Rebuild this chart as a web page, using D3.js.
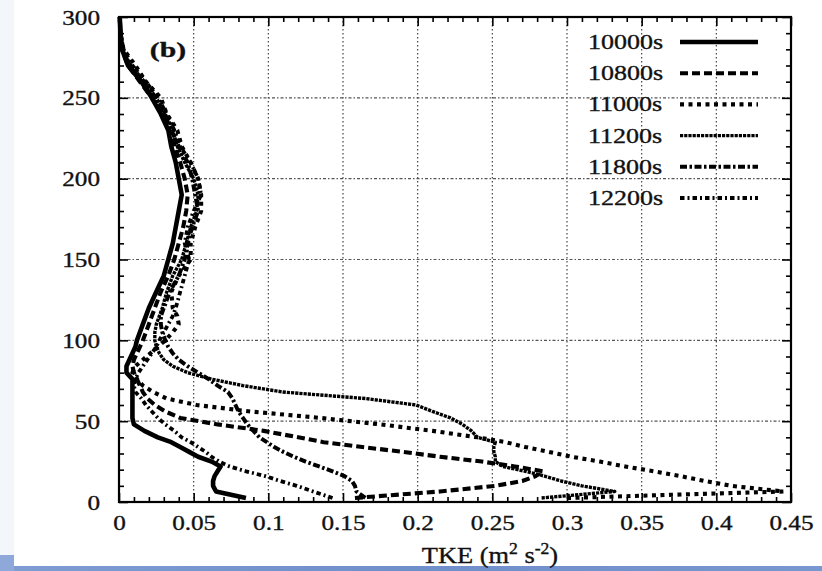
<!DOCTYPE html>
<html>
<head>
<meta charset="utf-8">
<script src="https://cdn.jsdelivr.net/npm/d3@7"></script>
<style>
  html, body { margin: 0; padding: 0; background: #fff; }
  svg { display: block; }
  text { font-family: "Liberation Serif", "Times New Roman", serif; fill: #111; stroke: #111; stroke-width: 0.35px; }
</style>
</head>
<body>
<svg id="chart" width="822" height="571"></svg>
<script>
// Heights (m) shared by all TKE profiles
const heights = [2.5, 6.5, 10, 13, 16, 19, 22, 25, 28, 31, 34, 37, 40, 44, 48, 52, 56, 60, 64, 68,
  72, 76, 80, 84, 88, 92, 96, 100, 105, 110, 115, 120, 130, 140, 150, 160, 170, 180, 190, 200,
  210, 220, 230, 240, 250, 260, 270, 280, 290, 300];

// TKE (m2 s-2) at each height, one array per output time
const tke10000 = [0.085, 0.065, 0.063, 0.063, 0.064, 0.066, 0.068, 0.062, 0.053, 0.047, 0.041, 0.035, 0.026, 0.017, 0.010, 0.009, 0.009, 0.009, 0.009, 0.009,
  0.009, 0.009, 0.005, 0.005, 0.007, 0.009, 0.011, 0.012, 0.014, 0.016, 0.018, 0.020, 0.025, 0.030, 0.033, 0.036, 0.038, 0.040, 0.042, 0.040,
  0.038, 0.035, 0.033, 0.028, 0.022, 0.015, 0.006, 0.002, 0.001, 0.0005];
const tke10800 = [0.158, 0.215, 0.252, 0.270, 0.279, 0.284, 0.265, 0.243, 0.215, 0.190, 0.163, 0.137, 0.120, 0.097, 0.066, 0.041, 0.031, 0.024, 0.019, 0.016,
  0.014, 0.012, 0.010, 0.009, 0.010, 0.012, 0.014, 0.016, 0.018, 0.020, 0.022, 0.024, 0.028, 0.033, 0.037, 0.040, 0.043, 0.045, 0.046, 0.044,
  0.041, 0.037, 0.034, 0.029, 0.022, 0.014, 0.006, 0.002, 0.001, 0.0005];
const tke11000 = [0.300, 0.445, 0.410, 0.392, 0.376, 0.358, 0.339, 0.322, 0.303, 0.288, 0.272, 0.259, 0.240, 0.210, 0.175, 0.135, 0.088, 0.052, 0.032, 0.023,
  0.016, 0.012, 0.009, 0.011, 0.016, 0.021, 0.026, 0.031, 0.036, 0.040, 0.039, 0.036, 0.035, 0.040, 0.048, 0.048, 0.051, 0.055, 0.055, 0.053,
  0.048, 0.042, 0.039, 0.032, 0.028, 0.018, 0.011, 0.003, 0.001, 0.0005];
const tke11200 = [0.283, 0.332, 0.310, 0.296, 0.285, 0.272, 0.257, 0.252, 0.252, 0.251, 0.251, 0.252, 0.240, 0.236, 0.230, 0.222, 0.210, 0.199, 0.165, 0.110,
  0.083, 0.062, 0.046, 0.036, 0.030, 0.027, 0.025, 0.024, 0.024, 0.025, 0.027, 0.029, 0.032, 0.036, 0.042, 0.045, 0.048, 0.052, 0.053, 0.050,
  0.044, 0.039, 0.036, 0.031, 0.025, 0.017, 0.008, 0.002, 0.001, 0.0005];
const tke11800 = [0.165, 0.159, 0.158, 0.156, 0.151, 0.143, 0.134, 0.125, 0.117, 0.110, 0.104, 0.099, 0.094, 0.090, 0.086, 0.083, 0.080, 0.078, 0.076, 0.073,
  0.066, 0.060, 0.053, 0.046, 0.040, 0.036, 0.033, 0.031, 0.029, 0.028, 0.028, 0.030, 0.034, 0.040, 0.044, 0.046, 0.049, 0.053, 0.051, 0.049,
  0.046, 0.040, 0.035, 0.030, 0.023, 0.015, 0.007, 0.002, 0.001, 0.0005];
const tke12200 = [0.143, 0.130, 0.119, 0.108, 0.098, 0.085, 0.074, 0.067, 0.062, 0.058, 0.053, 0.048, 0.042, 0.037, 0.031, 0.026, 0.022, 0.018, 0.015, 0.011,
  0.010, 0.011, 0.013, 0.016, 0.019, 0.022, 0.025, 0.027, 0.030, 0.033, 0.036, 0.038, 0.041, 0.044, 0.047, 0.044, 0.046, 0.050, 0.055, 0.053,
  0.048, 0.041, 0.037, 0.032, 0.026, 0.018, 0.009, 0.003, 0.001, 0.0005];

const seriesNames = ["10000s", "10800s", "11000s", "11200s", "11800s", "12200s"];
const seriesValues = [tke10000, tke10800, tke11000, tke11200, tke11800, tke12200];

const xTickValues = [0, 0.05, 0.1, 0.15, 0.2, 0.25, 0.3, 0.35, 0.4, 0.45];
const xTickLabels = ["0", "0.05", "0.1", "0.15", "0.2", "0.25", "0.3", "0.35", "0.4", "0.45"];
const yTickValues = [0, 50, 100, 150, 200, 250, 300];
const yTickLabels = ["0", "50", "100", "150", "200", "250", "300"];

// Line styles per series
const styles = [
  { dash: null,          width: 4.6 },
  { dash: "8,4",         width: 4.1 },
  { dash: "4,4.5",       width: 4.1 },
  { dash: "3.2,1",       width: 3.4 },
  { dash: "7,2.5,2.5,2.5", width: 4.0 },
  { dash: "4.5,3,2,3",   width: 3.8 }
];

const svg = d3.select("#chart");
const plotL = 119, plotR = 791, plotT = 17, plotB = 502;

const x = d3.scaleLinear().domain([0, 0.45]).range([plotL, plotR]);
const y = d3.scaleLinear().domain([0, 300]).range([plotB, plotT]);

// faint strip at the far left and blue band along the bottom
svg.append("rect").attr("x", 0).attr("y", 0).attr("width", 14).attr("height", 555).attr("fill", "#f3f6fb");
const grad = svg.append("defs").append("linearGradient").attr("id", "band").attr("x1", "0").attr("x2", "1");
grad.append("stop").attr("offset", "0").attr("stop-color", "#7f9cd3");
grad.append("stop").attr("offset", "0.5").attr("stop-color", "#6f8fcb");
grad.append("stop").attr("offset", "1").attr("stop-color", "#7896cf");
svg.append("rect").attr("x", 0).attr("y", 566).attr("width", 822).attr("height", 5).attr("fill", "url(#band)");
svg.append("rect").attr("x", 0).attr("y", 555).attr("width", 14).attr("height", 16).attr("fill", "#8da8d9");

// grid
const grid = svg.append("g");
grid.selectAll("line.v").data(xTickValues.slice(1, -1)).join("line")
  .attr("x1", d => x(d)).attr("x2", d => x(d)).attr("y1", plotT).attr("y2", plotB)
  .attr("stroke", "#444").attr("stroke-width", 1.2).attr("stroke-dasharray", "1.5,2.5");
grid.selectAll("line.h").data(yTickValues.slice(1, -1)).join("line")
  .attr("x1", plotL).attr("x2", plotR).attr("y1", d => y(d)).attr("y2", d => y(d))
  .attr("stroke", "#555").attr("stroke-width", 1.2).attr("stroke-dasharray", "3,2,1.5,2");

// profiles
const line = d3.line().x(d => x(d[1])).y(d => y(d[0]));
const plot = svg.append("g");
seriesValues.forEach((vals, i) => {
  const pts = heights.map((h, k) => [h, vals[k]]);
  plot.append("path").datum(pts)
    .attr("d", line)
    .attr("fill", "none")
    .attr("stroke", "#000")
    .attr("stroke-width", styles[i].width)
    .attr("stroke-linejoin", "round")
    .attr("stroke-dasharray", styles[i].dash);
});

// axes with inward ticks on all four sides
const xMinor = d3.range(0, 46).map(k => k / 100).filter(v => Math.round(v * 100) % 5 !== 0);
const yMinor = d3.range(0, 31).map(k => k * 10).filter(v => v % 50 !== 0);
const tickLbl = (vals, labels) => d => labels[vals.findIndex(v => Math.abs(v - d) < 1e-9)];

const gB = svg.append("g").attr("transform", `translate(0,${plotB})`)
  .call(d3.axisBottom(x).tickValues(xTickValues).tickSize(-9).tickFormat(tickLbl(xTickValues, xTickLabels)));
svg.append("g").attr("transform", `translate(0,${plotB})`)
  .call(d3.axisBottom(x).tickValues(xMinor).tickSize(-5).tickFormat(""));
svg.append("g").attr("transform", `translate(0,${plotT})`)
  .call(d3.axisTop(x).tickValues(xTickValues).tickSize(-9).tickFormat(""));
svg.append("g").attr("transform", `translate(0,${plotT})`)
  .call(d3.axisTop(x).tickValues(xMinor).tickSize(-5).tickFormat(""));
const gL = svg.append("g").attr("transform", `translate(${plotL},0)`)
  .call(d3.axisLeft(y).tickValues(yTickValues).tickSize(-9).tickFormat(tickLbl(yTickValues, yTickLabels)));
svg.append("g").attr("transform", `translate(${plotL},0)`)
  .call(d3.axisLeft(y).tickValues(yMinor).tickSize(-5).tickFormat(""));
svg.append("g").attr("transform", `translate(${plotR},0)`)
  .call(d3.axisRight(y).tickValues(yTickValues).tickSize(-9).tickFormat(""));
svg.append("g").attr("transform", `translate(${plotR},0)`)
  .call(d3.axisRight(y).tickValues(yMinor).tickSize(-5).tickFormat(""));

svg.selectAll(".domain").remove();
svg.selectAll(".tick line").attr("stroke", "#000").attr("stroke-width", 1.6);

gB.selectAll(".tick text")
  .attr("y", 0).attr("dy", 0)
  .attr("transform", "translate(0,28) scale(1.2,1)")
  .attr("font-size", 21).attr("font-family", null).attr("fill", "#111");
gL.selectAll(".tick text")
  .attr("x", 0).attr("dy", 0)
  .attr("transform", "translate(-19,7) scale(1.2,1)")
  .attr("font-size", 21).attr("font-family", null).attr("fill", "#111");

// frame
svg.append("rect").attr("x", plotL).attr("y", plotT).attr("width", plotR - plotL).attr("height", plotB - plotT)
  .attr("fill", "none").attr("stroke", "#000").attr("stroke-width", 2.2);

// panel tag
svg.append("text").attr("transform", "translate(168,57) scale(1.35,1)")
  .attr("text-anchor", "middle").attr("font-size", 22).attr("font-weight", "bold").text("(b)");

// legend
const legend = svg.append("g");
seriesNames.forEach((name, i) => {
  const cy = 42 + i * 31.2;
  legend.append("text").attr("transform", `translate(588,${cy + 7}) scale(1.24,1)`)
    .attr("font-size", 21).text(name);
  legend.append("line").attr("x1", 680).attr("x2", 758).attr("y1", cy).attr("y2", cy)
    .attr("stroke", "#000").attr("stroke-width", styles[i].width)
    .attr("stroke-dasharray", styles[i].dash);
});

// axis titles
const xt = svg.append("text").attr("transform", "translate(490,563) scale(1.1,1)")
  .attr("text-anchor", "middle").attr("font-size", 24);
xt.append("tspan").text("TKE (m");
xt.append("tspan").attr("font-size", 16).attr("dy", -9).text("2");
xt.append("tspan").attr("dy", 9).text(" s");
xt.append("tspan").attr("font-size", 16).attr("dy", -9).text("-2");
xt.append("tspan").attr("dy", 9).text(")");

svg.append("clipPath").attr("id", "ylab-clip").append("rect")
  .attr("x", 14).attr("y", 200).attr("width", 40).attr("height", 120);
svg.append("text").attr("clip-path", "url(#ylab-clip)")
  .attr("transform", "translate(23,260) rotate(-90)")
  .attr("text-anchor", "middle").attr("font-size", 24).text("z (m)");
</script>
</body>
</html>
